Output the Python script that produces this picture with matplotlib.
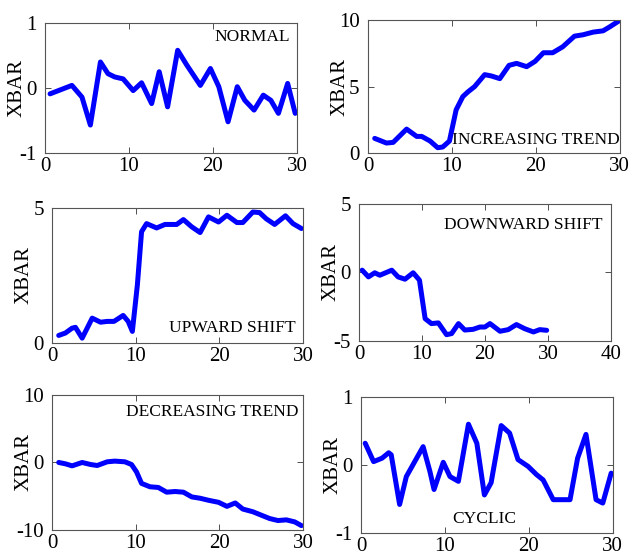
import matplotlib
matplotlib.use("Agg")
import matplotlib.pyplot as plt

plt.rcParams["font.family"] = ["Liberation Serif", "DejaVu Serif"]
plt.rcParams["axes.unicode_minus"] = False

# values (x, XBAR)
normal_x = [0.6, 1.8, 3.2, 4.4, 5.4, 6.6, 7.5, 8.3, 9.3, 10.5, 11.5, 12.7, 13.6, 14.6, 15.8,
            16.9, 18.5, 19.7, 20.7, 21.8, 22.9, 23.8, 24.9, 26.0, 26.9, 27.8, 28.9, 29.8]
normal_y = [-0.09, -0.03, 0.04, -0.14, -0.57, 0.40, 0.22, 0.17, 0.14, -0.04, 0.08, -0.24, 0.25, -0.29, 0.58,
            0.35, 0.04, 0.30, 0.02, -0.52, 0.02, -0.19, -0.34, -0.11, -0.19, -0.39, 0.07, -0.39]

inc_x = [0.8, 2.2, 3.0, 4.6, 5.8, 6.4, 7.4, 8.3, 8.9, 9.7, 10.5, 11.3, 11.9, 12.7, 13.9, 14.7, 15.7,
         16.8, 17.7, 18.9, 19.9, 20.9, 22.0, 23.2, 24.6, 25.6, 26.8, 28.0, 28.8, 29.9]
inc_y = [1.1, 0.75, 0.8, 1.8, 1.25, 1.25, 0.9, 0.4, 0.45, 0.9, 3.25, 4.25, 4.6, 5.0, 5.9, 5.8, 5.6,
         6.6, 6.75, 6.5, 6.9, 7.55, 7.55, 8.0, 8.8, 8.9, 9.1, 9.2, 9.5, 9.95]

up_x = [0.8, 1.6, 2.4, 2.8, 3.6, 4.8, 5.8, 6.6, 7.4, 8.5, 9.1, 9.6, 10.2, 10.7, 11.3, 12.5, 13.5,
        14.9, 15.7, 16.7, 17.7, 18.7, 19.9, 20.9, 22.1, 22.8, 24.0, 24.8, 25.6, 26.6, 27.9, 28.8, 29.8]
up_y = [0.28, 0.37, 0.55, 0.58, 0.18, 0.92, 0.77, 0.8, 0.8, 1.02, 0.8, 0.43, 2.15, 4.12, 4.42, 4.26, 4.39,
        4.39, 4.57, 4.3, 4.09, 4.67, 4.48, 4.73, 4.46, 4.46, 4.85, 4.83, 4.6, 4.39, 4.71, 4.42, 4.24]

down_x = [0.5, 1.5, 2.5, 3.3, 5.2, 6.2, 7.3, 8.6, 9.6, 10.5, 11.5, 12.6, 13.9, 14.7, 15.8, 16.8,
          18.1, 19.2, 20.0, 20.8, 22.4, 23.7, 25.0, 26.3, 27.7, 28.7, 29.8]
down_y = [0.17, -0.32, -0.02, -0.2, 0.17, -0.32, -0.49, -0.02, -0.56, -3.37, -3.73, -3.68, -4.54, -4.46, -3.73, -4.2,
          -4.15, -3.98, -3.98, -3.73, -4.29, -4.17, -3.8, -4.1, -4.34, -4.17, -4.22]

dec_x = [0.8, 1.6, 2.4, 3.6, 4.6, 5.4, 6.6, 7.5, 8.7, 9.5, 10.1, 10.7, 11.7, 12.7, 13.7, 14.7, 15.7,
         16.7, 17.7, 18.7, 19.9, 20.9, 21.9, 22.8, 24.0, 25.2, 26.0, 27.0, 28.0, 29.0, 29.8]
dec_y = [0.0, -0.2, -0.5, 0.0, -0.3, -0.45, 0.1, 0.2, 0.1, -0.3, -1.4, -3.1, -3.6, -3.7, -4.4, -4.3, -4.4,
         -5.1, -5.3, -5.6, -5.9, -6.5, -6.0, -6.9, -7.3, -7.9, -8.3, -8.6, -8.5, -8.8, -9.35]

cyc_x = [0.5, 1.5, 2.5, 3.3, 3.6, 4.6, 5.4, 6.4, 7.4, 8.2, 8.7, 9.8, 10.6, 11.6, 12.8, 13.8, 14.7,
         15.5, 16.7, 17.7, 18.7, 19.9, 20.9, 21.7, 22.9, 24.9, 25.8, 26.8, 28.0, 28.8, 29.8]
cyc_y = [0.32, 0.05, 0.1, 0.18, 0.15, -0.58, -0.17, 0.05, 0.27, -0.09, -0.36, 0.04, -0.17, -0.24, 0.6, 0.32, -0.44,
         -0.26, 0.58, 0.47, 0.08, -0.02, -0.14, -0.22, -0.51, -0.51, 0.1, 0.45, -0.51, -0.56, -0.12]

panels = [
    # rect, x, y, xlim, ylim, yticks, xticks, label, label pos, ha
    ([0.0708, 0.7258, 0.396, 0.233], normal_x, normal_y, (0, 30), (-1, 1), [-1, 0, 1], [0, 10, 20, 30],
     "NORMAL", (0.972, 0.895), "right"),
    ([0.5786, 0.7258, 0.396, 0.238], inc_x, inc_y, (0, 30), (0, 10), [0, 5, 10], [0, 10, 20, 30],
     "INCREASING TREND", (1.0, 0.10), "right"),
    ([0.0818, 0.3853, 0.3947, 0.242], up_x, up_y, (0, 30), (0, 5), [0, 5], [0, 10, 20, 30],
     "UPWARD SHIFT", (0.972, 0.11), "right"),
    ([0.5645, 0.3889, 0.396, 0.2455], down_x, down_y, (0, 40), (-5, 5), [-5, 0, 5], [0, 10, 20, 30, 40],
     "DOWNWARD SHIFT", (0.968, 0.847), "right"),
    ([0.0818, 0.0502, 0.3947, 0.242], dec_x, dec_y, (0, 30), (-10, 10), [-10, 0, 10], [0, 10, 20, 30],
     "DECREASING TREND", (0.98, 0.874), "right"),
    ([0.5676, 0.0448, 0.396, 0.2437], cyc_x, cyc_y, (0, 30), (-1, 1), [-1, 0, 1], [0, 10, 20, 30],
     "CYCLIC", (0.49, 0.10), "center"),
]

fig = plt.figure(figsize=(6.36, 5.58), dpi=100)

for rect, xs, ys, xl, yl, yt, xt, name, pos, ha in panels:
    ax = fig.add_axes(rect)
    ax.plot(xs, ys, color="#0000ff", linewidth=3.6, solid_joinstyle="round", solid_capstyle="round")
    ax.set_xlim(*xl)
    ax.set_ylim(*yl)
    ax.set_xticks(xt)
    ax.set_yticks(yt)
    ax.tick_params(direction="in", top=True, right=True, length=4, width=0.6,
                   labelsize=15, colors="#333333", labelcolor="black")
    ax.tick_params(axis="x", pad=3)
    ax.tick_params(axis="y", pad=6)
    for sp in ax.spines.values():
        sp.set_color("#555555")
        sp.set_linewidth(0.8)
    ax.set_ylabel("XBAR", fontsize=15)
    ax.yaxis.set_label_coords(-0.075, 0.5)
    ax.text(pos[0], pos[1], name, transform=ax.transAxes, ha=ha, va="center", fontsize=12.5)

fig.savefig("out.png", dpi=100)
